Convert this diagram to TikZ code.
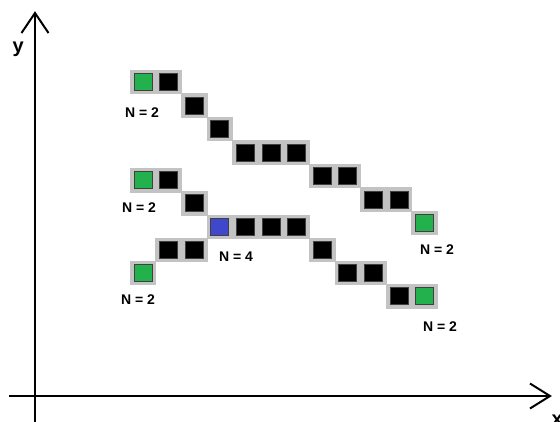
\documentclass[tikz,border=0pt]{standalone}
\usepackage{fontspec}
\setmainfont{Liberation Sans}
\definecolor{cellgray}{RGB}{195,195,195}
\definecolor{cellgreen}{RGB}{34,177,76}
\definecolor{cellblue}{RGB}{63,72,204}
\definecolor{cellblack}{RGB}{0,0,0}
\tikzset{
  cellbox/.style={fill=cellgray, draw=cellgray, line width=0.3pt, minimum width=25.6pt, minimum height=23.4pt, inner sep=0pt,
    path picture={\fill[#1, draw=black!75, line width=0.5pt] ([shift={(-9pt,-8.5pt)}]path picture bounding box.center) rectangle ++(18pt,17pt);}},
  cellbox/.default=cellblack,
  lab/.style={font=\bfseries\fontsize{14}{16}\selectfont, inner sep=0pt},
  axislab/.style={font=\bfseries\fontsize{20}{22}\selectfont, inner sep=0pt},
  axis/.style={line width=2pt, line cap=butt},
  barb/.style={line width=2pt, line join=miter}
}
\begin{document}
\begin{tikzpicture}[x=1pt,y=-1pt]
\useasboundingbox (0,0) rectangle (560,421);
\fill[white] (0,0) rectangle (560,421);
% top chain: column center 142.8+25.6c, row center 81.75+23.5r
\foreach \c/\r/\col [count=\i] in {0/0/cellgreen,1/0/cellblack,2/1/cellblack,3/2/cellblack,4/3/cellblack,5/3/cellblack,6/3/cellblack,7/4/cellblack,8/4/cellblack,9/5/cellblack,10/5/cellblack,11/6/cellgreen}
  \node[cellbox=\col] (t\i) at ({142.8+25.6*\c},{81.75+23.5*\r}) {};
% second chain: row center 180+23.2r
\foreach \c/\r/\col [count=\i] in {0/0/cellgreen,1/0/cellblack,2/1/cellblack,3/2/cellblue,4/2/cellblack,5/2/cellblack,6/2/cellblack,7/3/cellblack,8/4/cellblack,9/4/cellblack,10/5/cellblack,11/5/cellgreen,1/3/cellblack,2/3/cellblack,0/4/cellgreen}
  \node[cellbox=\col] (s\i) at ({142.8+25.6*\c},{180+23.2*\r}) {};
% labels
\node[lab] (l1) at (142,113) {N = 2};
\node[lab] (l2) at (139,208) {N = 2};
\node[lab] (l3) at (236,257) {N = 4};
\node[lab] (l4) at (138,300) {N = 2};
\node[lab] (l5) at (437,250) {N = 2};
\node[lab] (l6) at (440,327) {N = 2};
% axes
\coordinate (ybot) at (35,425);
\coordinate (ytip) at (35,13);
\coordinate (xleft) at (9,396);
\coordinate (xtip) at (550,396);
\draw[axis] (ybot) -- (ytip);
\draw[axis] (xleft) -- (xtip);
\draw[barb] ([shift={(-13.5,20)}]ytip) -- (ytip) -- ([shift={(13.5,20)}]ytip);
\draw[barb] ([shift={(-20,-12.5)}]xtip) -- (xtip) -- ([shift={(-20,12.5)}]xtip);
\node[axislab, anchor=base west] (ylab) at (12.5,52.5) {y};
\node[axislab, anchor=base west] (xlab) at (551.5,425.5) {x};
\end{tikzpicture}
\end{document}
